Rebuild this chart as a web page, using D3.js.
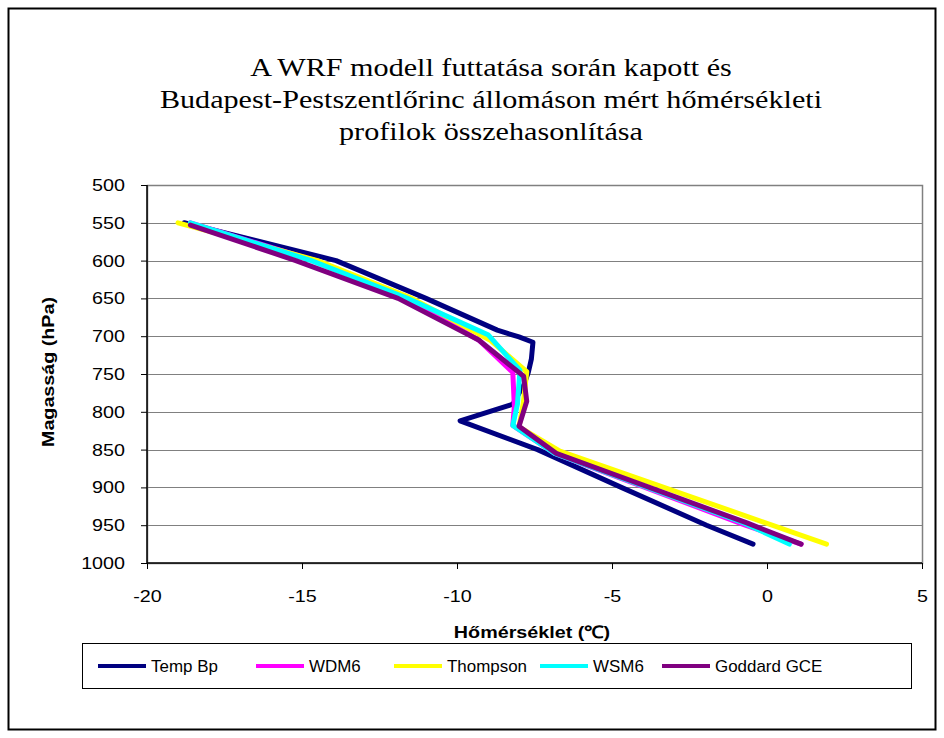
<!DOCTYPE html>
<html><head><meta charset="utf-8">
<script src="https://cdn.jsdelivr.net/npm/d3@7"></script>
<style>body{margin:0;background:#fff}svg{display:block}</style>
</head><body>
<svg id="c" width="944" height="738"></svg>
<script>
const titleLines = ["A WRF modell futtatása során kapott és","Budapest-Pestszentlőrinc állomáson mért hőmérsékleti","profilok összehasonlítása"];
const seriesNames = ["Temp Bp","WDM6","Thompson","WSM6","Goddard GCE"];
const seriesColors = ["#000080","#FF00FF","#FFFF00","#00FFFF","#800080"];
const yTicks = [500,550,600,650,700,750,800,850,900,950,1000];
const xTicks = [-20,-15,-10,-5,0,5];

const tempBpP = [550,600,650,692,701,708,730,748,765,790,812,850,900,950,975];
const tempBpT = [-18.8,-13.9,-11.0,-8.7,-8.0,-7.55,-7.6,-7.7,-7.85,-8.2,-9.9,-7.4,-4.7,-1.95,-0.45];
const wdm6P = [550,600,650,705,748,793,818,855,950,975];
const wdm6T = [-18.6,-14.6,-11.6,-9.3,-8.2,-8.15,-8.2,-6.85,-0.7,1.1];
const thompsonP = [550,600,650,705,747,788,820,852,975];
const thompsonT = [-19.0,-14.5,-11.45,-8.94,-7.75,-7.86,-8.0,-6.68,1.92];
const wsm6P = [550,600,650,698,745,790,818,855,947,975];
const wsm6T = [-18.6,-14.7,-11.6,-9.0,-7.97,-8.05,-8.2,-6.85,-0.75,0.72];
const goddardP = [553,600,650,705,753,786,819,855,947,975];
const goddardT = [-18.6,-15.2,-11.9,-9.3,-7.85,-7.75,-8.0,-6.8,-0.65,1.1];

const seriesP = [tempBpP,wdm6P,thompsonP,wsm6P,goddardP];
const seriesT = [tempBpT,wdm6T,thompsonT,wsm6T,goddardT];

const SX = 1.16; // horizontal glyph stretch of the original rendering
const sans = "'Liberation Sans',Arial,sans-serif";
const svg = d3.select("#c");
const L=147,R=922,T=185,B=563;
const x = d3.scaleLinear().domain([-20,5]).range([L,R]);
const y = d3.scaleLinear().domain([500,1000]).range([T,B]);

// outer border
svg.append("rect").attr("x",8.5).attr("y",8.5).attr("width",927).attr("height",721)
  .attr("fill","#fff").attr("stroke","#000").attr("stroke-width",2);

// title
svg.append("g").selectAll("text").data(titleLines).join("text")
  .attr("x",491/SX).attr("y",(d,i)=>76+i*32).attr("text-anchor","middle")
  .attr("transform",`scale(${SX},1)`)
  .style("font-family","'Liberation Serif','Times New Roman',serif").style("font-size","26px")
  .text(d=>d);

// plot area & gridlines
svg.append("g").selectAll("line").data(yTicks.slice(1,-1)).join("line")
  .attr("x1",L).attr("x2",R).attr("y1",d=>Math.round(y(d))+0.5).attr("y2",d=>Math.round(y(d))+0.5)
  .attr("stroke","#808080").attr("stroke-width",1);
svg.append("rect").attr("x",L+0.5).attr("y",T+0.5).attr("width",R-L).attr("height",B-T)
  .attr("fill","none").attr("stroke","#808080").attr("stroke-width",1.5);

// axes
const yAxis = d3.axisLeft(y).tickValues(yTicks).tickFormat(d=>String(d)).tickSize(6).tickPadding(16);
const gy = svg.append("g").attr("transform",`translate(${L},0)`).call(yAxis);
const xAxis = d3.axisBottom(x).tickValues(xTicks).tickFormat(d=>String(d)).tickSize(6).tickPadding(21);
const gx = svg.append("g").attr("transform",`translate(0,${B})`).call(xAxis);
[gx,gy].forEach(g=>{
  g.select(".domain").attr("stroke","#000").attr("stroke-width",1.5);
  g.selectAll(".tick line").attr("stroke","#000");
  g.selectAll(".tick text").style("font-family",sans).style("font-size","17px").attr("fill","#000")
    .attr("transform",`scale(${SX},1)`);
});
gy.selectAll(".tick text").attr("x",-22/SX);
gy.select(".domain").attr("d",`M0,${T}V${B}`);
gx.select(".domain").attr("d",`M${L},0H${R}`);

// axis titles
svg.append("text").attr("x",532/SX).attr("y",638).attr("text-anchor","middle")
  .attr("transform",`scale(${SX},1)`)
  .style("font-family",sans).style("font-size","17px").style("font-weight","bold")
  .text("Hőmérséklet (℃)");
svg.append("text").attr("transform",`translate(54,372) rotate(-90) scale(${SX},1)`).attr("text-anchor","middle")
  .style("font-family",sans).style("font-size","17px").style("font-weight","bold")
  .text("Magasság (hPa)");

// lines
const line = d3.line().x(d=>x(d[1])).y(d=>y(d[0]));
seriesNames.forEach((n,i)=>{
  const pts = seriesP[i].map((p,j)=>[p,seriesT[i][j]]);
  svg.append("path").datum(pts).attr("d",line).attr("fill","none")
    .attr("stroke",seriesColors[i]).attr("stroke-width",5)
    .attr("stroke-linejoin","round").attr("stroke-linecap","round");
});

// legend
const LSX = 1.06;
svg.append("rect").attr("x",82.5).attr("y",643.5).attr("width",829).attr("height",45)
  .attr("fill","#fff").attr("stroke","#000").attr("stroke-width",1);
const legX = [98,256,394,540,662];
const lg = svg.append("g").selectAll("g").data(seriesNames).join("g")
  .attr("transform",(d,i)=>`translate(${legX[i]},666)`);
lg.append("line").attr("x1",0).attr("x2",48).attr("y1",0).attr("y2",0)
  .attr("stroke",(d,i)=>seriesColors[i]).attr("stroke-width",4);
lg.append("text").attr("x",53/LSX).attr("y",6).attr("transform",`scale(${LSX},1)`)
  .style("font-family",sans).style("font-size","16px").text(d=>d);
</script>
</body></html>
